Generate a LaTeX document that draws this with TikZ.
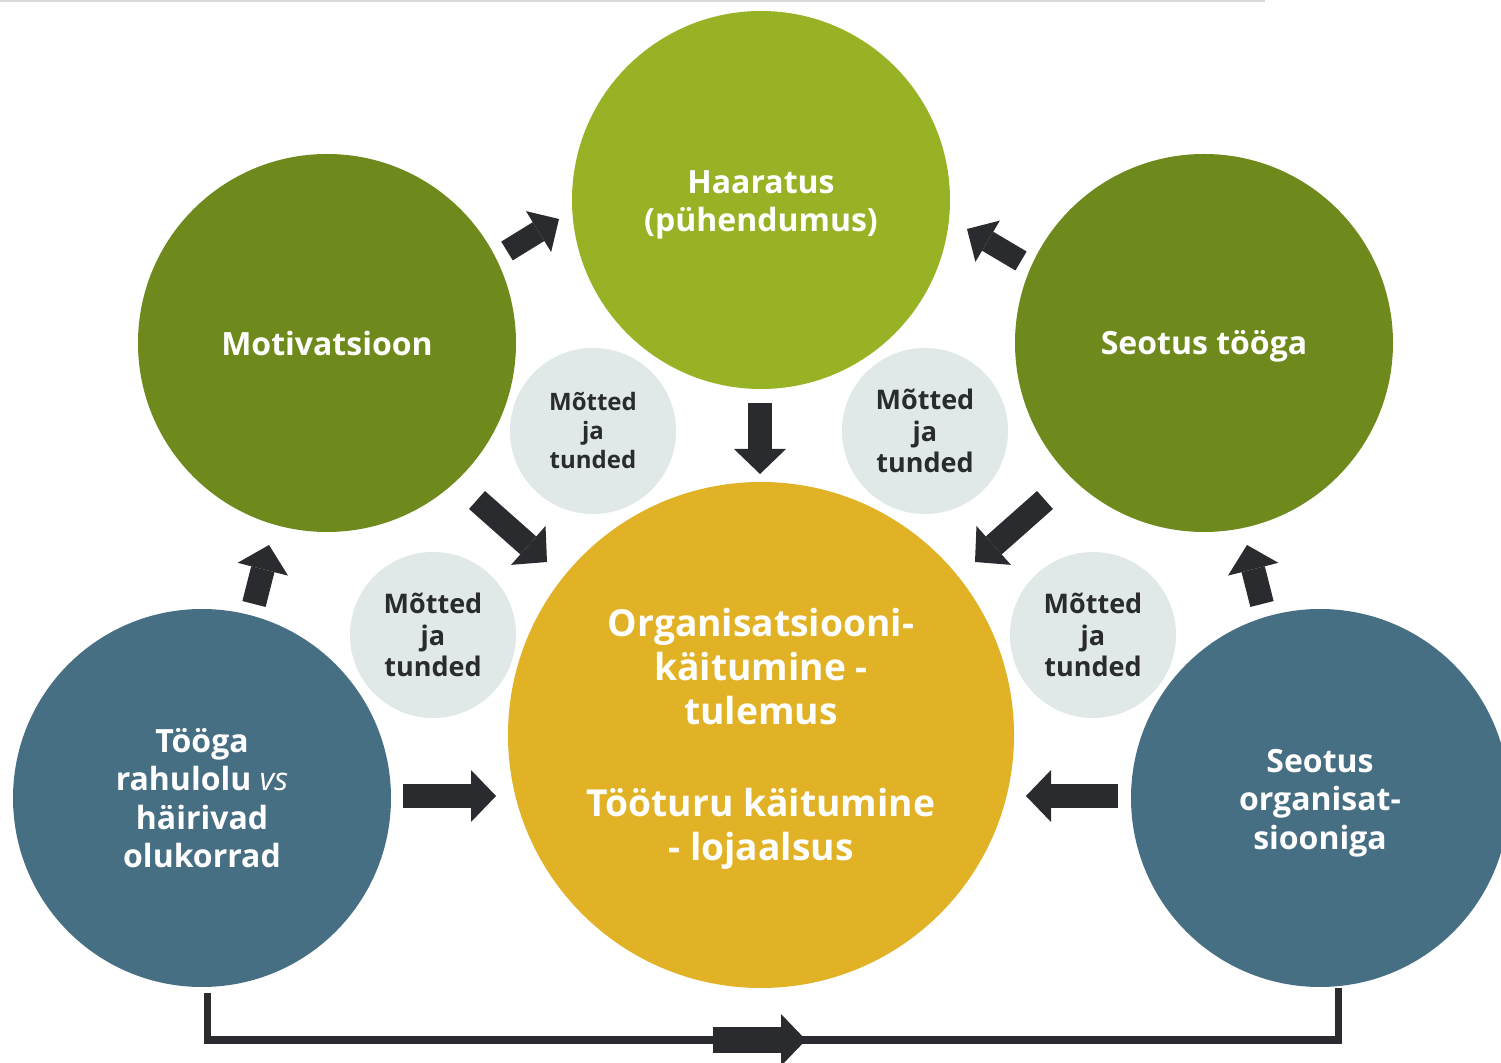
\documentclass[tikz,border=0pt]{standalone}
\usepackage{fontspec}
\setmainfont{Open Sans}
\usetikzlibrary{arrows.meta}
\definecolor{lime}{HTML}{97B224}
\definecolor{olive}{HTML}{6F8A1C}
\definecolor{gold}{HTML}{E1B226}
\definecolor{slate}{HTML}{476F84}
\definecolor{pale}{HTML}{E0E8E8}
\definecolor{ink}{HTML}{2A2B2E}
\definecolor{rule}{HTML}{D9D9D9}
\tikzset{
  bigc/.style={circle, inner sep=0pt, minimum size=189pt, text=white, align=center,
    font=\bfseries\fontsize{16}{19.25}\selectfont},
  midc/.style={circle, inner sep=0pt, minimum size=253pt, fill=gold, text=white, align=center,
    font=\bfseries\fontsize{18.6}{22}\selectfont},
  smallc/.style={circle, inner sep=0pt, minimum size=83pt, fill=pale, text=ink, align=center,
    font=\bfseries\fontsize{13.5}{15.75}\selectfont},
  wtxt/.style={text=white, align=center, inner sep=0pt,
    font=\bfseries\fontsize{16}{19.25}\selectfont},
  blk/.style={draw=ink, line width=12pt,
    -{Triangle[length=12.5pt, width=26pt, line width=0pt]}},
  blks/.style={draw=ink, line width=11pt,
    -{Triangle[length=12pt, width=24pt, line width=0pt]}},
  link/.style={draw=ink, line width=3.5pt}
}
\begin{document}
\begin{tikzpicture}[x=0.5pt, y=-0.5pt]
\useasboundingbox (0,0) rectangle (1501,1063);
\fill[white] (0,0) rectangle (1501,1063);
\draw[rule, line width=1pt] (0,1) -- (1265,1);

% big circles
\node[bigc, fill=lime]  (haar) at (761,200) {};
\node[bigc, fill=olive] (moti) at (327,343) {};
\node[bigc, fill=olive] (seot) at (1204,343) {};
\node[midc] (org) at (761,735) {};
\node[bigc, fill=slate] (rahu) at (202,798) {};
\node[bigc, fill=slate] (sorg) at (1320,798) {};

% texts of the big circles
\node[wtxt] at ([yshift=-2.5pt]haar.center) {Haaratus\\(pühendumus)};
\node[wtxt] at ([yshift=-0.5pt]moti.center) {Motivatsioon};
\node[wtxt] at ([yshift=-1.5pt]seot.center) {Seotus tööga};
\node[wtxt, font=\bfseries\fontsize{18.6}{22}\selectfont] at ([yshift=-2pt]org.center)
  {Organisatsiooni-\\käitumine -\\tulemus\\[24pt]Tööturu käitumine\\- lojaalsus};
\node[wtxt] at (rahu.center) {Tööga\\rahulolu {\mdseries\itshape vs}\\häirivad\\olukorrad};
\node[wtxt] at ([yshift=-2.5pt]sorg.center) {Seotus\\organisat-\\siooniga};

% small circles
\node[smallc, font=\bfseries\fontsize{12}{14.5}\selectfont] (m1) at (593,431) {Mõtted\\ja\\tunded};
\node[smallc] (m2) at (925,431) {Mõtted\\ja\\tunded};
\node[smallc] (m3) at (433,635) {Mõtted\\ja\\tunded};
\node[smallc] (m4) at (1093,635) {Mõtted\\ja\\tunded};

% arrow end points
\coordinate (a1s) at (507,251);  \coordinate (a1e) at (559,219);
\coordinate (a2s) at (1021,261); \coordinate (a2e) at (967,229);
\coordinate (a3s) at (760,403);  \coordinate (a3e) at (760,474);
\coordinate (a4s) at (477,500);  \coordinate (a4e) at (547,562);
\coordinate (a5s) at (1045,500); \coordinate (a5e) at (975,562);
\coordinate (a6s) at (254,604);  \coordinate (a6e) at (269,545);
\coordinate (a7s) at (1262,604); \coordinate (a7e) at (1247,545);
\coordinate (a8s) at (403,796);  \coordinate (a8e) at (496,796);
\coordinate (a9s) at (1118,796); \coordinate (a9e) at (1026,796);

\draw[blks] (a1s) -- (a1e);
\draw[blks] (a2s) -- (a2e);
\draw[blk] (a3s) -- (a3e);
\draw[blk] (a4s) -- (a4e);
\draw[blk] (a5s) -- (a5e);
\draw[blk] (a6s) -- (a6e);
\draw[blk] (a7s) -- (a7e);
\draw[blk] (a8s) -- (a8e);
\draw[blk] (a9s) -- (a9e);

% bottom connector
\coordinate (bl) at (207,993);
\coordinate (br) at (1338,988);
\coordinate (bas) at (713,1040);
\coordinate (bae) at (806,1040);
\draw[link] (bl) |- (bas) -- (bae) -| (br);
\draw[blk, line width=13pt] (bas) -- (bae);
\end{tikzpicture}
\end{document}
